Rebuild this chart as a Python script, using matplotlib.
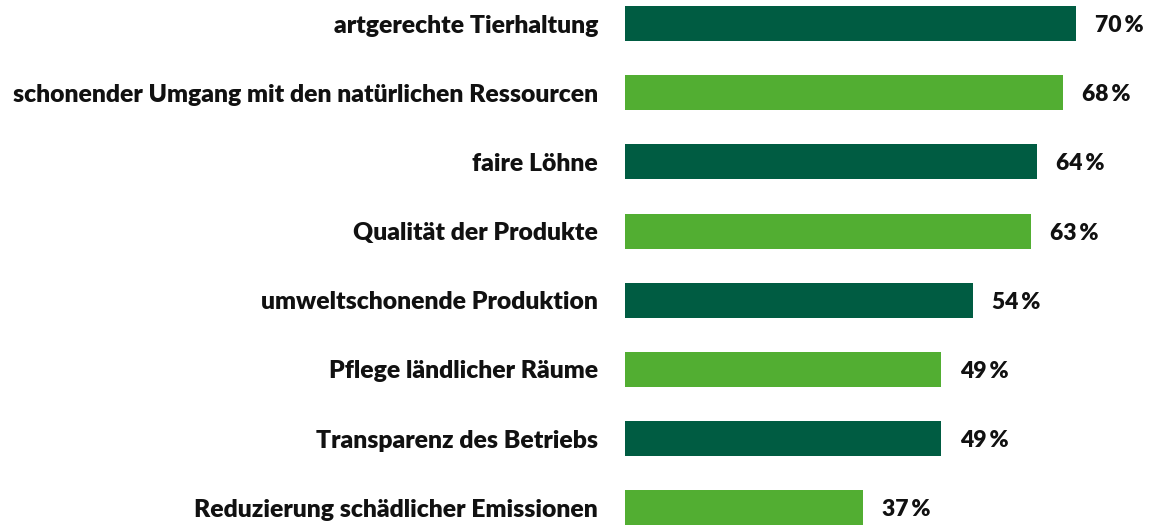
import matplotlib
matplotlib.use("Agg")
import matplotlib.pyplot as plt

categories = [
    "artgerechte Tierhaltung",
    "schonender Umgang mit den natürlichen Ressourcen",
    "faire Löhne",
    "Qualität der Produkte",
    "umweltschonende Produktion",
    "Pflege ländlicher Räume",
    "Transparenz des Betriebs",
    "Reduzierung schädlicher Emissionen",
]
values = [70, 68, 64, 63, 54, 49, 49, 37]

dark = "#005C42"
light = "#52AE32"
colors = [dark if i % 2 == 0 else light for i in range(len(values))]

plt.rcParams['font.family'] = ['Lato', 'DejaVu Sans']

W, H = 1151, 525
fig = plt.figure(figsize=(W / 100, H / 100), dpi=100)
ax = fig.add_axes([625 / W, 0, 1 - 625 / W, 1])

ypos = list(range(len(values)))
ax.barh(ypos, values, height=0.506, color=colors)
ax.set_xlim(0, (W - 625) / 6.44)
ax.set_ylim(7.25, -0.34)

for y, v, c in zip(ypos, values, categories):
    ax.text(v + 19 / 6.44, y + 0.03, f"{v}\u2009%", va="center", ha="left",
            fontsize=16.5, fontweight="heavy", color="#111111")
    ax.text(-27 / 6.44, y + 0.03, c, va="center", ha="right",
            fontsize=17.8, fontweight="heavy", color="#111111")

ax.axis("off")
fig.savefig("out.png", dpi=100)
